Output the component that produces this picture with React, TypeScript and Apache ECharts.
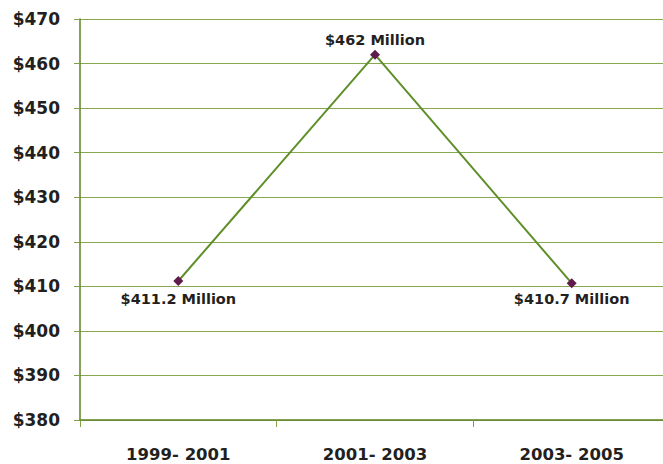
import React, { useEffect, useRef } from "react";
import * as echarts from "echarts";

const categories = ["1999- 2001", "2001- 2003", "2003- 2005"];
const values = [411.2, 462, 410.7];
const pointLabels = ["$411.2 Million", "$462 Million", "$410.7 Million"];
const labelPositions = ["bottom", "top", "bottom"];
const labelDistances = [6, 2, 3];

export default function App() {
  const ref = useRef<HTMLDivElement>(null);
  useEffect(() => {
    if (!ref.current) return;
    const chart = echarts.init(ref.current, null, { renderer: "svg" });
    const font = "'DejaVu Sans', sans-serif";
    chart.setOption({
      animation: false,
      backgroundColor: "#ffffff",
      grid: {
        left: 80,
        top: 19,
        height: 401,
        width: 590,
        containLabel: false,
        outerBoundsMode: "none",
      },
      xAxis: {
        type: "category",
        data: categories,
        boundaryGap: true,
        axisLine: { show: true, lineStyle: { color: "#5e8226", width: 1.5 } },
        axisTick: { show: true, length: 7, lineStyle: { color: "#7fa046" } },
        axisLabel: {
          margin: 27,
          fontFamily: font,
          fontWeight: "bold",
          fontSize: 16.5,
          lineHeight: 14,
          color: "#231f20",
        },
      },
      yAxis: {
        type: "value",
        min: 380,
        max: 470,
        interval: 10,
        axisLine: { show: true, lineStyle: { color: "#5e8226", width: 1.5 } },
        axisTick: { show: true, length: 6, lineStyle: { color: "#7fa046" } },
        splitLine: { show: true, lineStyle: { color: "#86a84e", width: 1 } },
        axisLabel: {
          margin: 20,
          fontFamily: font,
          fontWeight: "bold",
          fontSize: 17,
          color: "#231f20",
          formatter: (v: number) => "$" + v,
        },
      },
      series: [
        {
          type: "line",
          data: values.map((v, i) => ({
            value: v,
            label: {
              show: true,
              position: labelPositions[i],
              formatter: pointLabels[i],
              distance: labelDistances[i],
            },
          })),
          symbol: "diamond",
          symbolSize: 10,
          itemStyle: { color: "#5e1b4c" },
          lineStyle: { color: "#5f8f2a", width: 2 },
          label: {
            fontFamily: font,
            fontWeight: "bold",
            fontSize: 14.5,
            color: "#231f20",
          },
        },
      ],
    });
    return () => chart.dispose();
  }, []);
  return (
    <div
      ref={ref}
      style={{ position: "fixed", left: 0, top: 0, width: 663, height: 464 }}
    />
  );
}
